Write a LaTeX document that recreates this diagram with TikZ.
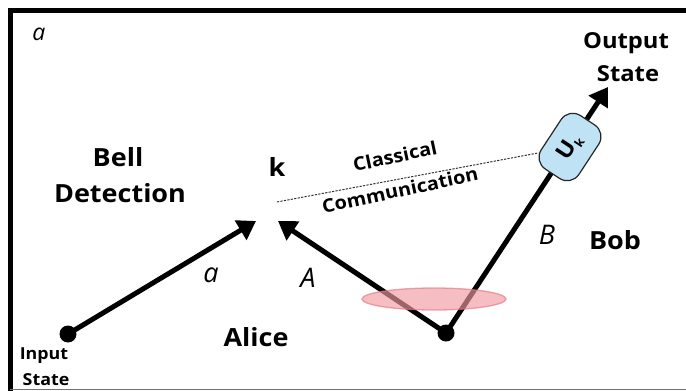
\documentclass[tikz,border=0pt]{standalone}
\usepackage{fontspec}
\setmainfont[FakeStretch=1.08]{Open Sans}
\newfontfamily\varfont{Open Sans}
\usetikzlibrary{arrows.meta}

\definecolor{boxblue}{HTML}{BFE3F4}
\definecolor{pairpink}{HTML}{F29AA2}
\definecolor{pairedge}{HTML}{E37882}

\begin{document}
\begin{tikzpicture}[x=1pt,y=-1pt,
  every node/.style={inner sep=0pt, text=black},
  title/.style={font=\bfseries\fontsize{25}{27}\selectfont, align=center},
  party/.style={font=\bfseries\fontsize{25}{27}\selectfont},
  small/.style={font=\bfseries\fontsize{16.5}{18}\selectfont},
  outlbl/.style={font=\bfseries\fontsize{22}{24}\selectfont},
  comm/.style={font=\bfseries\fontsize{18.5}{20}\selectfont, rotate=12},
  var/.style={font=\varfont\itshape\fontsize{27}{29}\selectfont},
  dot/.style={circle, fill=black, minimum size=17pt},
  conn/.style={line width=5pt, -{Triangle[length=18pt,width=22pt]}},
  ubox/.style={draw=black!85, line width=1.2pt, fill=boxblue, rounded corners=14pt,
    minimum width=64pt, minimum height=45pt, rotate=56.7,
    font=\bfseries\fontsize{22}{24}\selectfont},
  classical/.style={dash pattern=on 2.2pt off 1.3pt, line width=1pt, black!80}]

\useasboundingbox (0,0) rectangle (686,391);
\fill[white] (0,0) rectangle (686,391);

% frame
\draw[line width=5pt] (10.5,391) -- (10.5,10.5) -- (686,10.5);
\draw[line width=1pt, black!55] (10,389.5) -- (686,389.5);

% panel label
\node[var, font=\varfont\itshape\fontsize{23}{25}\selectfont] (panel) at (39,34) {a};

% sources and targets
\node[dot] (indot) at (68,334) {};
\node[dot] (pairdot) at (446,333) {};
\coordinate (tipa) at (256,221);
\coordinate (tipA) at (278,221);
\coordinate (tipout) at (608,87);
\coordinate (cstart) at (277,202);

% quantum channels
\draw[conn] (indot.center) -- (tipa);
\draw[conn] (pairdot.center) -- (tipA);
\draw[conn] (pairdot.center) -- (tipout);

% entangled pair
\filldraw[fill=pairpink, draw=pairedge, line width=1.3pt, opacity=0.65]
  (434,299) ellipse [x radius=72, y radius=11];

% correction unitary
\node[ubox] (ubox) at (570,147) {U\raisebox{-4pt}{\fontsize{12}{13}\selectfont k}};

% classical channel
\draw[classical] (cstart) -- (ubox);

% labels
\node[title] (bell) at (118,157) {Bell};
\node[title] (detect) at (120,193) {Detection};
\node[party] (klbl) at (277,167) {k};
\node[comm] (classlbl) at (395,156) {Classical};
\node[comm] (commlbl) at (400,190) {Communication};
\node[outlbl] (outlbl1) at (626,43) {Output};
\node[outlbl] (outlbl2) at (628,74) {State};
\node[small] (inlbl1) at (44,356) {Input};
\node[small] (inlbl2) at (46,380) {State};
\node[party] (alice) at (256,337) {Alice};
\node[party] (bob) at (615,240) {Bob};
\node[var] (alab) at (211,275) {a};
\node[var] (Alab) at (308,278) {A};
\node[var] (Blab) at (547,235) {B};
\end{tikzpicture}
\end{document}
